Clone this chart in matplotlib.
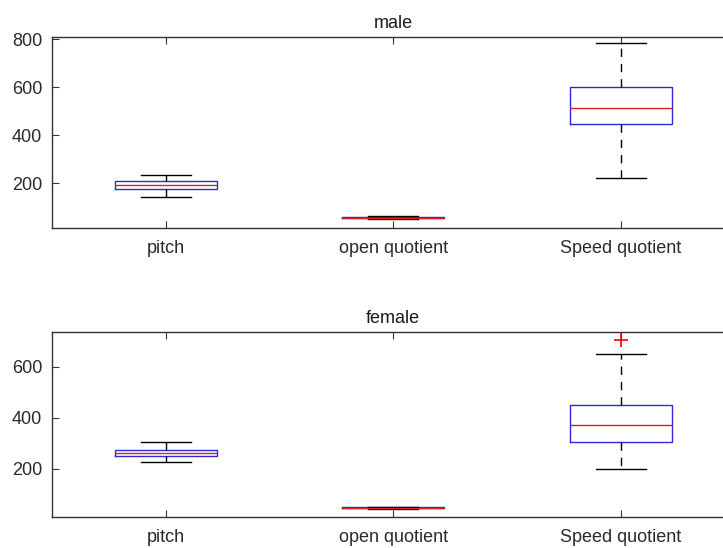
import matplotlib
matplotlib.use("Agg")
import matplotlib.pyplot as plt

plt.rcParams["font.family"] = ["Liberation Sans", "DejaVu Sans"]

categories = ["pitch", "open quotient", "Speed quotient"]

# five-number summaries: low whisker, q1, median, q3, high whisker
male_whislo = [144, 51, 221]
male_q1 = [175, 54, 446]
male_med = [193, 56, 512]
male_q3 = [207, 58, 600]
male_whishi = [232, 61, 783]
male_fliers = [[], [], []]

female_whislo = [227, 45, 200]
female_q1 = [250, 47, 307]
female_med = [263, 49, 372]
female_q3 = [275, 51, 450]
female_whishi = [305, 53, 648]
female_fliers = [[], [], [704]]


def make_stats(lo, q1, med, q3, hi, fliers):
    return [
        dict(whislo=a, q1=b, med=c, q3=d, whishi=e, fliers=f, label=lab)
        for a, b, c, d, e, f, lab in zip(lo, q1, med, q3, hi, fliers, categories)
    ]


def draw_panel(ax, stats, title, ylim, yticks):
    ax.bxp(
        stats,
        positions=[1, 2, 3],
        widths=0.45,
        capwidths=0.22,
        boxprops=dict(color="#2b2bd9", linewidth=1.0),
        medianprops=dict(color="#e02020", linewidth=1.0),
        whiskerprops=dict(color="black", linewidth=1.0, linestyle=(0, (6, 5))),
        capprops=dict(color="black", linewidth=1.0),
        flierprops=dict(marker="+", markeredgecolor="#ff0000", markersize=10,
                        markeredgewidth=1.2, linestyle="none"),
    )
    ax.set_xlim(0.5, 3.5)
    ax.set_ylim(*ylim)
    ax.set_yticks(yticks)
    ax.set_xticks([1, 2, 3])
    ax.set_xticklabels(categories)
    ax.set_title(title, fontsize=13, color="#1a1a1a", pad=6)
    ax.tick_params(axis="both", direction="in", length=5, width=0.8,
                   labelsize=13, labelcolor="#2a2a2a", color="#333333",
                   top=True, pad=7)
    ax.tick_params(axis="x", pad=9)
    for side in ("top", "bottom", "left"):
        ax.spines[side].set_linewidth(1.0)
        ax.spines[side].set_color("#333333")
    ax.spines["right"].set_visible(False)


fig = plt.figure(figsize=(7.23, 5.48), dpi=100)
fig.patch.set_facecolor("white")

ax_top = fig.add_axes([52 / 723, 1 - 227.7 / 548, 682.5 / 723, 191 / 548])
ax_bot = fig.add_axes([52 / 723, 1 - 517 / 548, 682.5 / 723, 185.3 / 548])

draw_panel(ax_top, make_stats(male_whislo, male_q1, male_med, male_q3, male_whishi, male_fliers),
           "male", (14, 811), [200, 400, 600, 800])
draw_panel(ax_bot, make_stats(female_whislo, female_q1, female_med, female_q3, female_whishi, female_fliers),
           "female", (12, 737), [200, 400, 600])

fig.savefig("out.png", dpi=100)
